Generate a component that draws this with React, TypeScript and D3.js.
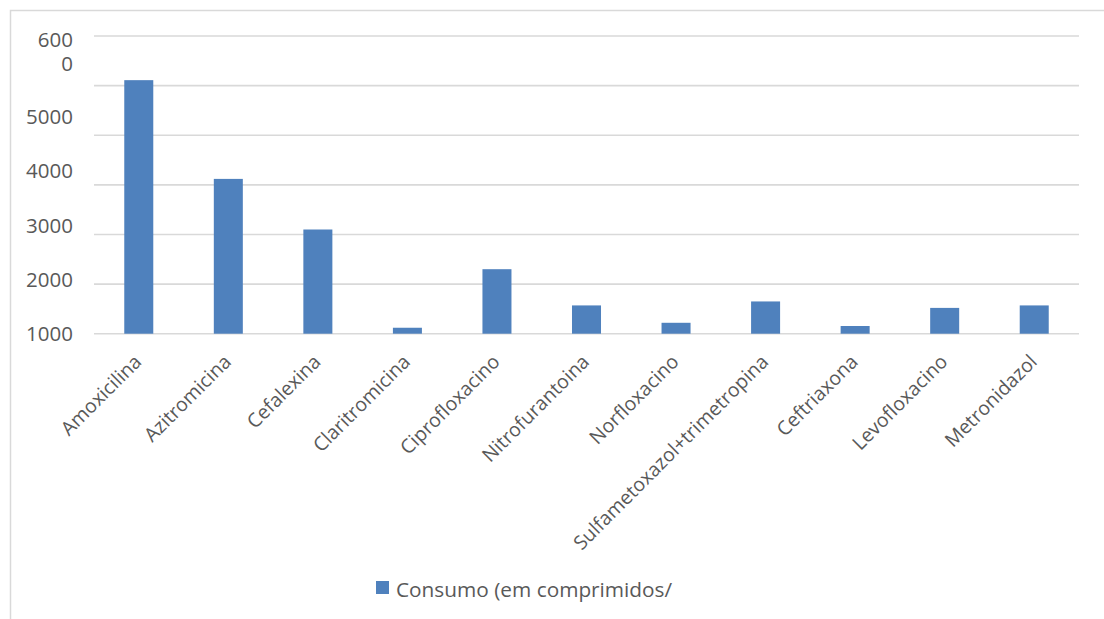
import React from "react";
import * as d3 from "d3";

const categories = [
  "Amoxicilina",
  "Azitromicina",
  "Cefalexina",
  "Claritromicina",
  "Ciprofloxacino",
  "Nitrofurantoina",
  "Norfloxacino",
  "Sulfametoxazol+trimetropina",
  "Ceftriaxona",
  "Levofloxacino",
  "Metronidazol",
];
const consumo = [5110, 3120, 2100, 120, 1300, 570, 220, 650, 155, 520, 570];
const gridValues = [0, 1000, 2000, 3000, 4000, 5000, 6000];
const axisLabels = ["6000", "5000", "4000", "3000", "2000", "1000"];
const seriesName = "Consumo (em comprimidos/";

const W = 1104;
const H = 619;
const FONT = "'Open Sans', 'DejaVu Sans', sans-serif";
const TEXT = "#595959";
const BAR = "#4f81bd";
const GRID = "#d9d9d9";

export default function App() {
  const x = d3
    .scaleBand<string>()
    .domain(categories)
    .range([94, 1079])
    .paddingInner(0.676)
    .paddingOuter(0.338);
  const y = d3.scaleLinear().domain([0, 6000]).range([333.7, 36]);
  // label rows on the value axis are spaced a bit wider than the gridlines
  const yLab = d3.scaleLinear().domain([1000, 5000]).range([334, 117]);

  return (
    <svg
      width={W}
      height={H}
      style={{ position: "absolute", left: 0, top: 0, background: "#fff" }}
      fontFamily={FONT}
    >
      <rect width={W} height={H} fill="#fff" />
      <path d={`M10.5,${H} V10.5 H${W}`} fill="none" stroke={GRID} strokeWidth={1.5} />

      {gridValues.map((v) => (
        <line
          key={v}
          x1={94}
          x2={1079}
          y1={y(v)}
          y2={y(v)}
          stroke={GRID}
          strokeWidth={1.6}
        />
      ))}

      {axisLabels.map((lab) => {
        const v = +lab;
        if (v === 6000) {
          // the top label wraps onto two lines
          const yy = yLab(v);
          return (
            <text key={lab} x={73} fontSize={20.5} fill={TEXT} textAnchor="end">
              <tspan x={73} y={yy - 16}>
                {lab.slice(0, 3)}
              </tspan>
              <tspan x={73} y={yy + 8}>
                {lab.slice(3)}
              </tspan>
            </text>
          );
        }
        return (
          <text
            key={lab}
            x={73}
            y={yLab(v) + 7}
            fontSize={20.5}
            fill={TEXT}
            textAnchor="end"
          >
            {lab}
          </text>
        );
      })}

      {categories.map((c, i) => (
        <rect
          key={c}
          x={x(c)}
          width={x.bandwidth()}
          y={y(consumo[i])}
          height={y(0) - y(consumo[i])}
          fill={BAR}
        />
      ))}

      {categories.map((c) => {
        const cx = (x(c) as number) + x.bandwidth() / 2;
        return (
          <text
            key={c}
            transform={`translate(${cx + 4},363) rotate(-45)`}
            textAnchor="end"
            fontSize={19.5}
            fill={TEXT}
          >
            {c}
          </text>
        );
      })}

      <rect x={376} y={581} width={13} height={13} fill={BAR} />
      <text x={396} y={597} fontSize={20.8} fill={TEXT}>
        {seriesName}
      </text>
    </svg>
  );
}
